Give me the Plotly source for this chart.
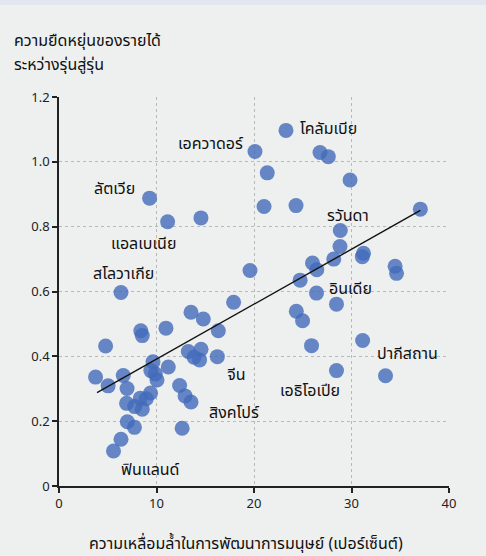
import plotly.graph_objects as go

# Human development inequality (%) vs intergenerational income elasticity
hdi_inequality = [
    23.28, 20.10, 26.77, 27.62, 21.36, 29.85, 21.03, 24.31, 37.06, 9.29,
    11.14, 14.56, 6.36, 19.59, 17.91, 13.54, 14.80, 28.85, 28.82, 31.23,
    31.11, 28.18, 26.00, 26.44, 34.47, 34.62, 24.73, 26.41, 28.46, 24.34,
    24.98, 25.90, 31.14, 28.46, 33.49, 8.39, 8.54, 10.97, 16.34, 16.24,
    4.78, 13.26, 14.57, 13.85, 14.42, 3.75, 5.04, 6.59, 6.98, 9.64,
    9.42, 9.88, 10.05, 11.21, 12.37, 12.93, 13.54, 12.63, 9.39, 8.34,
    8.95, 6.93, 7.77, 8.54, 7.01, 7.74, 6.36, 5.59,
]
income_elasticity = [
    1.097, 1.032, 1.029, 1.016, 0.966, 0.944, 0.862, 0.865, 0.854, 0.888,
    0.815, 0.827, 0.597, 0.665, 0.567, 0.536, 0.515, 0.788, 0.739, 0.718,
    0.707, 0.700, 0.688, 0.667, 0.678, 0.656, 0.635, 0.595, 0.561, 0.539,
    0.510, 0.433, 0.449, 0.356, 0.340, 0.479, 0.464, 0.487, 0.479, 0.399,
    0.432, 0.415, 0.422, 0.397, 0.389, 0.336, 0.309, 0.341, 0.301, 0.383,
    0.356, 0.346, 0.327, 0.367, 0.310, 0.278, 0.259, 0.178, 0.287, 0.271,
    0.269, 0.255, 0.245, 0.237, 0.198, 0.181, 0.144, 0.108,
]

trend_x = [3.9, 37.06]
trend_y = [0.288, 0.850]

label_names = ["เอควาดอร์", "โคลัมเบีย", "ลัตเวีย", "แอลเบเนีย", "สโลวาเกีย", "รวันดา",
               "อินเดีย", "ปากีสถาน", "จีน", "เอธิโอเปีย", "สิงคโปร์", "ฟินแลนด์"]
label_x = [15.62, 27.62, 5.67, 8.64, 6.59, 29.67, 29.87, 35.72, 18.18, 25.78, 17.98, 9.36]
label_y = [1.059, 1.105, 0.920, 0.750, 0.657, 0.836, 0.611, 0.410, 0.346, 0.296, 0.228, 0.052]

x_ticks = [0, 10, 20, 30, 40]
x_tick_text = ["0", "10", "20", "30", "40"]
y_ticks = [0, 0.2, 0.4, 0.6, 0.8, 1.0, 1.2]
y_tick_text = ["0", "0.2", "0.4", "0.6", "0.8", "1.0", "1.2"]

y_title_lines = ["ความยืดหยุ่นของรายได้", "ระหว่างรุ่นสู่รุ่น"]
x_title = "ความเหลื่อมล้ำในการพัฒนาการมนุษย์ (เปอร์เซ็นต์)"

FONT = "Noto Sans, Noto Sans Thai, sans-serif"
BG = "#eef0ef"
W, H = 486, 556
L, R, T, B = 59, 37, 97, 70
pw = W - L - R
ph = H - T - B

fig = go.Figure()
fig.add_trace(go.Scatter(
    x=hdi_inequality, y=income_elasticity, mode="markers",
    marker=dict(size=15, color="rgb(66,106,186)", opacity=0.8, line=dict(width=0)),
    hoverinfo="skip", showlegend=False, cliponaxis=False,
))
fig.add_trace(go.Scatter(
    x=trend_x, y=trend_y, mode="lines",
    line=dict(color="#111111", width=1.4),
    hoverinfo="skip", showlegend=False,
))

for name, lx, ly in zip(label_names, label_x, label_y):
    fig.add_annotation(x=lx, y=ly, xref="x", yref="y", text=name, showarrow=False,
                       font=dict(family=FONT, size=16, color="#111111"),
                       xanchor="center", yanchor="middle")

for i, line in enumerate(y_title_lines):
    cy = 40 + 24 * i  # pixel centre of the line
    fig.add_annotation(x=-(L - 12) / pw, y=1 + (T - cy) / ph, xref="paper", yref="paper",
                       text=line, showarrow=False, xanchor="left", yanchor="middle",
                       font=dict(family=FONT, size=16, color="#111111"))

fig.add_annotation(x=(246 - L) / pw, y=-(543 - (H - B)) / ph, xref="paper", yref="paper",
                   text=x_title, showarrow=False, xanchor="center", yanchor="middle",
                   font=dict(family=FONT, size=16, color="#111111"))

# top band
fig.add_shape(type="rect", xref="paper", yref="paper", x0=-0.5, x1=1.5,
              y0=1 + (T - 5) / ph, y1=1 + (T + 2) / ph,
              fillcolor="#e3e6ef", line=dict(width=0), layer="below")

axis_common = dict(
    showline=True, linecolor="#222222", linewidth=1.5,
    ticks="outside", ticklen=5, tickwidth=1.5, tickcolor="#222222",
    showgrid=True, gridcolor="#b8bab9", gridwidth=1, griddash="3px,3px",
    zeroline=False, tickfont=dict(family=FONT, size=13, color="#222222"),
    fixedrange=True,
)
fig.update_xaxes(range=[0, 40], tickvals=x_ticks, ticktext=x_tick_text, **axis_common)
fig.update_yaxes(range=[0, 1.2], tickvals=y_ticks, ticktext=y_tick_text, **axis_common)

fig.update_layout(
    width=W, height=H,
    margin=dict(l=L, r=R, t=T, b=B),
    paper_bgcolor=BG, plot_bgcolor=BG,
    font=dict(family=FONT),
)

fig.write_html(
    "out.html",
    config={"displayModeBar": False},
    post_script="document.body.style.margin='0';document.body.style.background='%s';"
                "document.documentElement.style.overflow='hidden';" % BG,
)
